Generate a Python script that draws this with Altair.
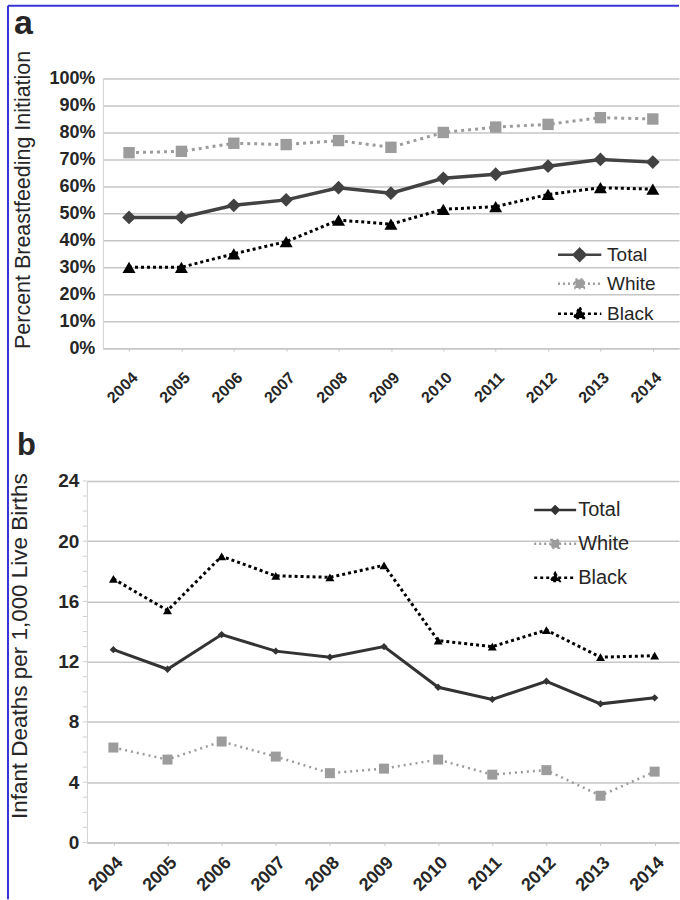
import altair as alt
import pandas as pd

# ---- data -----------------------------------------------------------------
years = list(range(2004, 2015))
series = ["Total", "White", "Black"]

# Panel a: percent of births with breastfeeding initiated
bf_total = [48.5, 48.5, 53.0, 55.0, 59.5, 57.5, 63.0, 64.5, 67.5, 70.0, 69.0]
bf_white = [72.5, 73.0, 76.0, 75.5, 77.0, 74.5, 80.0, 82.0, 83.0, 85.5, 85.0]
bf_black = [30.0, 30.0, 35.0, 39.5, 47.5, 46.0, 51.5, 52.5, 57.0, 59.5, 59.0]

# Panel b: infant deaths per 1,000 live births
im_total = [12.8, 11.5, 13.8, 12.7, 12.3, 13.0, 10.3, 9.5, 10.7, 9.2, 9.6]
im_white = [6.3, 5.5, 6.7, 5.7, 4.6, 4.9, 5.5, 4.5, 4.8, 3.1, 4.7]
im_black = [17.5, 15.4, 19.0, 17.7, 17.6, 18.4, 13.4, 13.0, 14.1, 12.3, 12.4]

pct_ticks = list(range(0, 101, 10))
rate_ticks = list(range(0, 25, 4))
rate_minor_ticks = list(range(0, 25, 1))


def long_table(total, white, black):
    rows = []
    for name, vals in zip(series, [total, white, black]):
        for yr, v in zip(years, vals):
            rows.append({"Year": yr, "Series": name, "Value": v})
    return pd.DataFrame(rows)


bf_df = long_table(bf_total, bf_white, bf_black)
im_df = long_table(im_total, im_white, im_black)

# ---- styling ----------------------------------------------------------------
FONT = "Liberation Sans"
TEXT = "#262626"
GRID = "#c6c6c6"
BLUE = "#3636d6"

colors = ["#424242", "#9c9c9c", "#000000"]
colors_b = ["#333333", "#9c9c9c", "#000000"]

style_a = {
    "Total": dict(color=colors[0], dash=None, width=3.5, shape="diamond", size=190),
    "White": dict(color=colors[1], dash=[3, 4], width=3, shape="square", size=130),
    "Black": dict(color=colors[2], dash=[3, 3], width=3, shape="triangle-up", size=170),
}
style_b = {
    "Total": dict(color=colors_b[0], dash=None, width=3, shape="diamond", size=55),
    "White": dict(color=colors_b[1], dash=[2, 4], width=2.5, shape="square", size=100),
    "Black": dict(color=colors_b[2], dash=[3, 3], width=3, shape="triangle-up", size=80),
}

# legend glyphs: a short line with the series marker in the middle
paths_a = [
    "M-3.1,0H3.1M0,-0.85L0.85,0L0,0.85L-0.85,0Z",
    "M-3.1,0H3.1M-0.6,-0.6H0.6V0.6H-0.6Z",
    "M-3.1,0H3.1M0,-0.9L0.8,0.6H-0.8Z",
]
paths_b = [
    "M-3.0,0H3.0M0,-0.5L0.5,0L0,0.5L-0.5,0Z",
    "M-3.0,0H3.0M-0.55,-0.55H0.55V0.55H-0.55Z",
    "M-3.0,0H3.0M0,-0.65L0.6,0.45H-0.6Z",
]
dashes_a = [[1, 0], [2, 3], [3, 3]]
dashes_b = [[1, 0], [2, 3], [3, 3]]


def series_layers(base, styles):
    layers = []
    for name in ["White", "Black", "Total"]:
        st = styles[name]
        line_kw = dict(color=st["color"], strokeWidth=st["width"])
        if st["dash"]:
            line_kw["strokeDash"] = st["dash"]
        sub = base.transform_filter(alt.datum.Series == name)
        layers.append(sub.mark_line(**line_kw))
        layers.append(
            sub.mark_point(
                shape=st["shape"], size=st["size"], filled=True,
                color=st["color"], opacity=1,
            )
        )
    return layers


def legend_layer(base, leg, fills, paths, dashes):
    dom = series
    return base.transform_filter("false").mark_point(opacity=1).encode(
        fill=alt.Fill("Series:N", scale=alt.Scale(domain=dom, range=fills), legend=leg),
        stroke=alt.Stroke("Series:N", scale=alt.Scale(domain=dom, range=fills), legend=leg),
        shape=alt.Shape("Series:N", scale=alt.Scale(domain=dom, range=paths), legend=leg),
        strokeDash=alt.StrokeDash("Series:N", scale=alt.Scale(domain=dom, range=dashes), legend=leg),
    )


def x_axis(size, pad):
    return alt.Axis(
        values=years, format="d", labelAngle=-45, title=None, grid=False,
        labelFont=FONT, labelFontSize=size, labelFontWeight="bold",
        labelColor=TEXT, labelPadding=pad, ticks=True, tickSize=3,
        tickColor=GRID, domainColor=GRID, domainWidth=1.5,
    )


one_row = pd.DataFrame({"k": [0]})


def panel_letter(letter, dx, dy, size):
    return alt.Chart(one_row).mark_text(
        text=letter, font=FONT, fontSize=size, fontWeight="bold", color=TEXT,
        align="left", baseline="alphabetic",
    ).encode(x=alt.value(dx), y=alt.value(dy))


# ---- panel a ------------------------------------------------------------------
W = 593
HA = 270
HB = 362

base_a = alt.Chart(bf_df).encode(
    x=alt.X("Year:Q", scale=alt.Scale(domain=[2003.5, 2014.5], range=[16, W], nice=False, zero=False),
            axis=x_axis(16, 18)),
    y=alt.Y("Value:Q", scale=alt.Scale(domain=[0, 100], nice=False),
            axis=alt.Axis(
                values=pct_ticks, labelExpr="datum.value + '%'", offset=-16,
                grid=True, gridColor=GRID, gridWidth=1.5,
                domainColor="#d0d0d0", ticks=False, labelPadding=8,
                labelFont=FONT, labelFontSize=18, labelFontWeight="bold", labelColor=TEXT,
                title="Percent Breastfeeding Initiation", titleFont=FONT,
                titleFontSize=21.5, titleFontWeight="normal", titleColor=TEXT,
                titleX=-68, titleY=121,
            )),
)

leg_a = alt.Legend(
    title=None, orient="none", legendX=484, legendY=167, padding=0,
    symbolSize=196, symbolStrokeWidth=2.5, labelOffset=18, rowPadding=8,
    labelFont=FONT, labelFontSize=19, labelColor=TEXT,
)

# blue border along the top and left edge of the figure
frame_left = alt.Chart(one_row).mark_rule(color=BLUE, strokeWidth=2).encode(
    x=alt.value(-79), y=alt.value(-73), y2=alt.value(822)
)
frame_top = alt.Chart(one_row).mark_rule(color=BLUE, strokeWidth=2).encode(
    x=alt.value(-79), x2=alt.value(W), y=alt.value(-73)
)

panel_a = alt.layer(
    frame_left, frame_top,
    panel_letter("a", -73, -45, 34),
    *series_layers(base_a, style_a),
    legend_layer(base_a, leg_a, colors, paths_a, dashes_a),
).properties(width=W, height=HA)

# ---- panel b ------------------------------------------------------------------
y_scale_b = alt.Scale(domain=[0, 24], nice=False)

base_b = alt.Chart(im_df).encode(
    x=alt.X("Year:Q", scale=alt.Scale(domain=[2003.51, 2014.45], nice=False, zero=False),
            axis=x_axis(18, 8)),
    y=alt.Y("Value:Q", scale=y_scale_b,
            axis=alt.Axis(
                values=rate_ticks, format="d",
                grid=True, gridColor=GRID, gridWidth=1.5,
                domainColor="#d0d0d0", ticks=False, labelPadding=8,
                labelFont=FONT, labelFontSize=19, labelFontWeight="bold", labelColor=TEXT,
                title="Infant Deaths per 1,000 Live Births", titleFont=FONT,
                titleFontSize=22.5, titleFontWeight="normal", titleColor=TEXT,
                titleX=-55, titleY=165,
            )),
)

# small tick marks on the y axis at every unit
minor_b = alt.Chart(pd.DataFrame({"Value": rate_minor_ticks})).mark_rule(
    color="#cfcfcf", strokeWidth=1
).encode(
    y=alt.Y("Value:Q", scale=y_scale_b),
    x=alt.value(-4), x2=alt.value(0),
)

leg_b = alt.Legend(
    title=None, orient="none", legendX=459, legendY=19, padding=0,
    symbolSize=196, symbolStrokeWidth=2.5, labelOffset=13, rowPadding=14,
    labelFont=FONT, labelFontSize=20, labelColor=TEXT,
)

panel_b = alt.layer(
    panel_letter("b", -70, -26, 31),
    minor_b,
    *series_layers(base_b, style_b),
    legend_layer(base_b, leg_b, colors_b, paths_b, dashes_b),
).properties(width=W, height=HB)

chart = alt.vconcat(panel_a, panel_b, spacing=133, bounds="flush").resolve_scale(
    fill="independent", stroke="independent", shape="independent", strokeDash="independent"
).configure(
    padding={"left": 7, "top": 4, "right": 0, "bottom": 0},
    background="white",
).configure_view(stroke=None)

chart.save("out.html", embed_options={"renderer": "svg", "actions": False})
